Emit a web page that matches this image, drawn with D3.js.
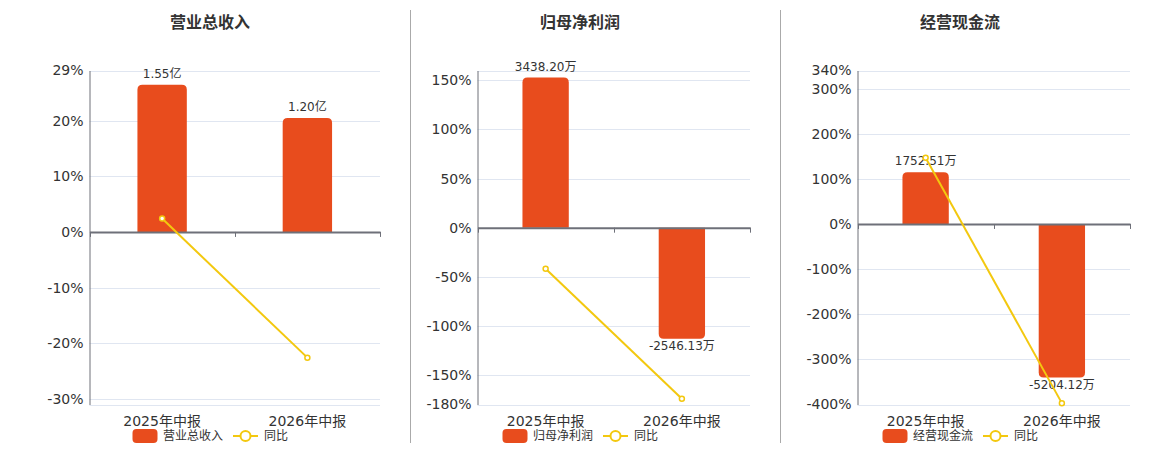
<!DOCTYPE html>
<html><head><meta charset="utf-8">
<script src="https://cdn.jsdelivr.net/npm/d3@7"></script>
<style>body{margin:0;background:#fff}svg{display:block}text{font-family:"DejaVu Sans","Noto Sans CJK SC",sans-serif}</style>
</head><body><svg id="c" width="1160" height="450"></svg>
<script>
const categories = ["2025年中报", "2026年中报"];
const titles = ["营业总收入", "归母净利润", "经营现金流"];
const barValues = [[1.55, 1.20], [3438.20, -2546.13], [1752.51, -5204.12]];
const barLabels = [["1.55亿", "1.20亿"], ["3438.20万", "-2546.13万"], ["1752.51万", "-5204.12万"]];
const yoyValues = [[2.4, -22.58], [-41.8, -174.05], [146.7, -396.96]];
const yoyName = "同比";
const pctDomains = [[-31, 29], [-180, 160], [-400, 340]];
const pctTicks = [[29, 20, 10, 0, -10, -20, -30], [150, 100, 50, 0, -50, -100, -150, -180], [340, 300, 200, 100, 0, -100, -200, -300, -400]];
const barAxisTop = [1.70, 3600, 5200];

const layout = [{x0: 89.5, x1: 380, cx: 210}, {x0: 477.5, x1: 750, cx: 580}, {x0: 857.5, x1: 1130, cx: 960}];
const plotTop = 70.5, plotBottom = 404.5;
const BAR = "#e84c1d", LINE = "#f3c80f", AXIS = "#6e7079", GRID = "#e0e6f1", TXT = "#333";

const svg = d3.select("#c");
[410.5, 780.5].forEach(x => svg.append("line").attr("x1", x).attr("x2", x).attr("y1", 10).attr("y2", 443).attr("stroke", "#aaa"));

function barPath(x, w, y0, y1, r) {
  const h = Math.abs(y1 - y0); r = Math.min(r, h / 2, w / 2);
  if (y1 < y0) {
    return `M${x},${y0}V${y1 + r}Q${x},${y1} ${x + r},${y1}H${x + w - r}Q${x + w},${y1} ${x + w},${y1 + r}V${y0}Z`;
  } else {
    return `M${x},${y0}V${y1 - r}Q${x},${y1} ${x + r},${y1}H${x + w - r}Q${x + w},${y1} ${x + w},${y1 - r}V${y0}Z`;
  }
}

titles.forEach((title, i) => {
  const L = layout[i];
  const g = svg.append("g");
  const y = d3.scaleLinear().domain(pctDomains[i]).range([plotBottom, plotTop]);
  const bTop = barAxisTop[i];
  const yb = d3.scaleLinear().domain([bTop * pctDomains[i][0] / pctDomains[i][1], bTop]).range([plotBottom, plotTop]);
  const x = d3.scaleBand().domain(categories).range([L.x0, L.x1]);

  g.append("text").attr("x", L.cx).attr("y", 22).attr("text-anchor", "middle").attr("dominant-baseline", "central")
    .attr("font-size", 16).attr("font-weight", "bold").attr("fill", TXT).text(title);

  const gridVals = Array.from(new Set([...pctTicks[i], pctDomains[i][0], pctDomains[i][1]]));
  g.selectAll(".grid").data(gridVals).join("line")
    .attr("x1", L.x0).attr("x2", L.x1).attr("y1", d => Math.round(y(d)) + 0.5).attr("y2", d => Math.round(y(d)) + 0.5)
    .attr("stroke", GRID);

  const yAxis = d3.axisLeft(y).tickValues(pctTicks[i]).tickSize(0).tickPadding(6).tickFormat(d => d + "%");
  const ya = g.append("g").attr("transform", `translate(${L.x0},0)`).call(yAxis);
  ya.select(".domain").attr("stroke", AXIS);
  ya.selectAll("text").attr("font-size", 14).attr("fill", TXT).attr("font-family", "DejaVu Sans, sans-serif");

  const bw = x.bandwidth() * 0.34;
  g.selectAll(".bar").data(barValues[i]).join("path")
    .attr("d", (d, j) => barPath(x(categories[j]) + (x.bandwidth() - bw) / 2, bw, yb(0), yb(d), 5))
    .attr("fill", BAR);

  const xAxis = d3.axisBottom(x).tickSize(0).tickFormat("");
  const xa = g.append("g").attr("transform", `translate(0,${y(0)})`).call(xAxis);
  xa.select(".domain").attr("stroke", AXIS).attr("stroke-width", 2);
  xa.selectAll(".tick").remove();
  const bounds = [...categories.map(c => x(c)), L.x1];
  g.selectAll(".xt").data(bounds).join("line")
    .attr("x1", d => Math.round(d) + 0.5).attr("x2", d => Math.round(d) + 0.5)
    .attr("y1", y(0)).attr("y2", y(0) + 5).attr("stroke", AXIS);

  g.selectAll(".cat").data(categories).join("text")
    .attr("x", d => x(d) + x.bandwidth() / 2).attr("y", 421).attr("text-anchor", "middle").attr("dominant-baseline", "central")
    .attr("font-size", 14).attr("fill", TXT).text(d => d);

  g.selectAll(".bl").data(barValues[i]).join("text")
    .attr("x", (d, j) => x(categories[j]) + x.bandwidth() / 2)
    .attr("y", d => d >= 0 ? yb(d) - 11 : yb(d) + 7)
    .attr("text-anchor", "middle").attr("dominant-baseline", "central")
    .attr("font-size", 12).attr("fill", TXT).text((d, j) => barLabels[i][j]);

  const line = d3.line().x((d, j) => x(categories[j]) + x.bandwidth() / 2).y(d => y(d));
  g.append("path").datum(yoyValues[i]).attr("d", line).attr("fill", "none").attr("stroke", LINE).attr("stroke-width", 2);
  g.selectAll(".pt").data(yoyValues[i]).join("circle")
    .attr("cx", (d, j) => x(categories[j]) + x.bandwidth() / 2).attr("cy", d => y(d)).attr("r", 2.5)
    .attr("fill", "#fff").attr("stroke", LINE).attr("stroke-width", 1.5);

  const ly = 436;
  g.append("rect").attr("x", L.cx - 77.5).attr("y", ly - 7).attr("width", 25).attr("height", 14).attr("rx", 4).attr("fill", BAR);
  g.append("text").attr("x", L.cx - 47).attr("y", ly).attr("dominant-baseline", "central").attr("font-size", 12).attr("fill", TXT).text(title);
  g.append("line").attr("x1", L.cx + 23).attr("x2", L.cx + 48).attr("y1", ly).attr("y2", ly).attr("stroke", LINE).attr("stroke-width", 2);
  g.append("circle").attr("cx", L.cx + 35.5).attr("cy", ly).attr("r", 5).attr("fill", "#fff").attr("stroke", LINE).attr("stroke-width", 2);
  g.append("text").attr("x", L.cx + 54).attr("y", ly).attr("dominant-baseline", "central").attr("font-size", 12).attr("fill", TXT).text(yoyName);
});
</script></body></html>
